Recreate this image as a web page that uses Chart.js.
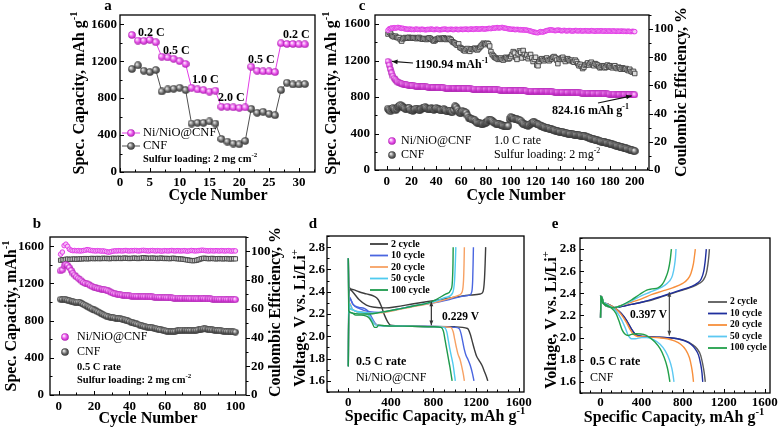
<!DOCTYPE html>
<html><head><meta charset="utf-8">
<script src="https://cdn.jsdelivr.net/npm/chart.js@4.4.1/dist/chart.umd.min.js"></script>
<style>
html,body{margin:0;padding:0;background:#fff;}
#wrap{position:relative;width:780px;height:430px;overflow:hidden;background:#fff;}
canvas{position:absolute;left:0;top:0;}
</style></head><body>
<div id="wrap">
<canvas id="ca" width="780" height="430"></canvas>
<canvas id="cb" width="780" height="430"></canvas>
<canvas id="cc" width="780" height="430"></canvas>
<canvas id="cd" width="780" height="430"></canvas>
<canvas id="ce" width="780" height="430"></canvas>
</div>
<script>
const SERIF = "'Liberation Serif','Times New Roman',serif";

// ---------- Panel a: rate capability ----------
const aCycles = [2,3,4,5,6,7,8,9,10,11,12,13,14,15,16,17,18,19,20,21,22,23,24,25,26,27,28,29,30,31];
const aNiNiO = [1484,1423,1420,1430,1405, 1249,1240,1225,1200,1170, 912,894,887,870,880, 706,706,700,695,700, 1140,1097,1090,1090,1082, 1394,1386,1386,1383,1383];
const aCNF   = [1115,1155,1097,1082,1104, 872,894,901,912,887, 525,532,532,547,525, 358,329,308,300,337, 684,641,652,630,615, 887,967,948,948,952];
const aXTicks = [0,5,10,15,20,25,30];
const capTicks = [0,400,800,1200,1600];
const ceTicks = [0,20,40,60,80,100];
const rateLabels = ['0.2 C','0.5 C','1.0 C','2.0 C','0.5 C','0.2 C'];

// ---------- Panel b: 0.5 C cycling (cycles 1..100) ----------
const bNiNiO = [1335,1345,1390,1405,1395,1370,1340,1310,1290,1270,
1255,1240,1225,1210,1200,1195,1190,1175,1165,1158,
1152,1146,1142,1138,1135,1132,1128,1120,1110,1100,
1093,1088,1084,1080,1077,1075,1072,1070,1068,1066,
1065,1064,1063,1062,1061,1060,1059,1058,1058,1057,
1057,1056,1055,1054,1053,1052,1051,1050,1049,1048,
1047,1046,1045,1044,1043,1042,1042,1041,1040,1040,
1039,1038,1038,1037,1036,1036,1035,1035,1034,1034,
1040,1038,1036,1034,1033,1033,1032,1032,1031,1031,
1030,1030,1029,1029,1028,1028,1027,1027,1026,1026];
const bCNF = [1030,1028,1030,1025,1020,1015,1010,1005,1000,998,
1000,995,985,975,965,955,945,935,925,915,
905,895,885,875,866,858,850,843,838,835,
832,828,825,822,818,815,810,805,798,790,
783,776,770,764,758,752,745,740,735,731,
728,725,722,718,714,710,705,700,696,692,
688,685,683,682,683,685,690,694,697,698,
697,696,695,694,694,693,694,696,700,706,
710,712,711,708,705,702,700,698,696,694,
692,690,688,686,684,682,680,679,678,677];
const bNiNiOCE = [98.0,99.5,104.0,105.0,103.5,101.5,100.8,100.5,100.6,100.4,
100.5,100.3,100.4,100.6,100.8,101.2,101.0,100.7,100.5,100.4,
100.3,100.5,100.4,100.2,100.3,100.1,99.8,99.5,99.6,100.0,
100.2,100.4,100.3,100.5,100.4,100.3,100.5,100.6,100.4,100.3,
100.5,100.4,100.6,100.5,100.3,100.4,100.6,100.7,100.5,100.4,
100.3,100.5,100.6,100.4,100.3,100.5,100.4,100.2,100.3,100.5,
100.4,100.3,100.5,100.6,100.4,100.3,100.5,100.4,100.3,100.4,
100.5,100.3,100.2,100.4,100.6,100.5,100.3,100.4,100.5,100.6,
100.8,100.7,100.5,100.4,100.3,100.5,100.4,100.3,100.5,100.4,
100.3,100.5,100.4,100.3,100.4,100.5,100.3,100.2,100.4,100.3];
const bCNFCE = [93.8,94.2,94.0,94.5,94.6,94.4,94.5,94.6,94.7,94.5,
94.6,94.8,94.7,94.9,95.0,94.8,94.9,95.0,95.1,94.9,
95.0,95.1,94.9,95.0,95.2,95.0,95.1,95.0,94.9,95.1,
95.2,95.0,95.1,95.2,95.0,95.1,95.3,95.2,95.1,95.0,
95.1,95.2,95.3,95.1,95.0,95.2,95.3,95.6,95.4,95.2,
95.1,95.2,95.3,95.2,95.1,95.0,95.2,95.3,95.1,95.0,
95.1,95.0,94.9,95.1,95.2,95.0,94.9,94.8,94.7,94.6,
94.4,94.2,94.0,93.8,93.6,93.5,93.6,93.8,94.2,94.6,
95.0,95.2,95.1,95.0,94.9,95.0,95.1,94.9,94.8,94.9,
95.0,94.9,94.8,94.9,95.0,94.8,94.7,94.8,94.9,94.8];
const bXTicks = [0,20,40,60,80,100];

// ---------- Panel c: 1.0 C cycling (cycles 1..200) ----------
const cNiNiO = [1190.94,1150,1105,1065,1030,1005,988,975,965,958,
952,947,943,940,937,934,932,930,928,926,
924,922,921,919,918,917,916,915,914,913,
912,911,910,909,908,907,906,906,905,904,
903,903,902,901,901,900,899,899,898,898,
897,897,896,896,895,895,894,894,893,893,
892,892,891,891,890,890,889,889,888,888,
887,887,886,886,885,885,884,884,883,883,
882,882,881,881,880,880,879,879,878,878,
877,877,876,876,875,875,874,874,873,873,
872,872,871,871,870,870,869,869,868,868,
867,867,866,866,865,865,864,864,863,863,
862,862,861,861,860,860,859,859,858,858,
857,857,856,856,855,855,854,854,853,853,
852,852,851,851,850,850,849,849,848,848,
847,847,846,846,845,845,844,844,843,843,
842,842,841,841,840,840,839,839,838,838,
837,837,836,836,835,835,834,834,833,833,
832,832,831,831,830,830,829,829,828,828,
827,827,826,826,826,825,825,825,824.5,824.16];
const cCNF = [672,660,645,665,680,670,655,668,690,700,
712,705,690,680,672,668,675,680,662,655,
650,660,668,672,665,658,662,670,678,685,
690,680,672,665,670,675,668,660,672,680,
672,665,660,655,662,668,660,650,645,652,
648,640,636,660,698,690,665,640,625,630,
645,640,632,628,600,575,565,560,555,550,
545,530,520,515,512,508,505,510,515,520,
530,545,550,548,540,525,515,510,508,505,
500,495,490,485,482,480,478,485,560,580,
575,565,560,558,555,550,545,540,520,510,
500,495,490,488,495,505,515,525,522,515,
505,500,495,488,480,475,470,465,462,458,
455,450,445,440,436,432,428,425,420,418,
415,412,410,406,403,400,398,395,392,390,
388,386,384,382,380,378,376,374,372,368,
364,360,355,350,345,340,336,332,328,324,
320,316,312,310,306,302,298,295,292,288,
284,280,276,272,268,264,260,256,252,248,
244,240,236,232,228,224,220,216,212,208];
const cNiNiOCE = [99.2,100.2,100.5,100.8,100.6,101.0,100.7,100.9,101.2,101.0,
100.8,100.5,100.6,100.3,100.1,100.0,99.8,99.9,100.0,99.7,
99.8,99.6,99.9,100.0,99.7,99.8,99.6,99.9,99.8,99.7,
99.5,99.6,99.8,99.7,99.9,100.0,99.8,99.6,99.7,99.9,
99.8,99.6,99.5,99.7,99.8,99.9,100.0,99.8,99.6,99.7,
99.8,99.9,99.7,99.6,99.8,99.9,99.7,99.6,99.8,99.9,
99.7,99.8,99.9,100.0,99.8,99.7,99.9,100.1,99.9,99.8,
100.0,100.2,100.1,99.9,100.0,100.2,100.3,100.1,100.0,100.2,
100.3,100.4,100.5,100.3,100.6,100.8,100.6,100.9,101.1,100.8,
100.9,101.0,101.2,100.9,100.7,100.6,100.4,100.2,100.1,99.9,
99.8,99.9,99.7,99.6,99.8,99.7,99.5,99.6,99.4,99.5,
99.3,99.4,99.2,99.0,98.8,98.6,98.3,98.0,97.8,97.6,
97.5,97.4,97.8,98.2,98.0,97.9,98.3,98.6,98.9,99.1,
99.3,99.5,99.4,99.2,99.0,98.9,99.1,99.3,99.2,99.0,
98.8,98.9,99.1,98.9,98.7,98.8,99.0,98.9,98.7,98.6,
98.8,99.0,98.9,98.7,98.8,98.9,98.7,98.6,98.8,98.9,
98.7,98.8,98.6,98.7,98.9,98.8,98.6,98.5,98.7,98.8,
98.6,98.7,98.8,98.6,98.5,98.7,98.6,98.5,98.7,98.6,
98.5,98.6,98.7,98.5,98.4,98.6,98.5,98.4,98.6,98.5,
98.4,98.5,98.3,98.4,98.5,98.3,98.2,98.4,98.3,98.2];
const cCNFCE = [96.5,97.8,97.0,95.5,94.8,94.5,95.0,94.2,93.8,94.0,
92.5,91.5,93.0,93.6,94.0,93.5,93.8,94.2,93.9,93.5,
93.8,94.0,93.6,93.2,93.7,94.1,93.5,93.0,92.8,93.4,
93.0,92.6,93.2,93.8,93.5,92.8,92.2,91.5,92.0,92.8,
93.2,93.6,93.0,92.7,93.4,93.8,93.1,92.6,93.0,93.5,
93.0,92.2,91.0,90.5,90.0,89.0,88.5,89.5,87.0,86.5,
86.0,85.0,84.5,85.5,86.2,85.0,84.2,85.8,86.0,85.5,
86.5,86.0,85.2,86.0,87.0,88.0,89.0,90.0,89.5,89.0,
90.0,89.5,88.0,84.0,82.0,81.0,80.0,79.5,79.0,78.5,
79.0,79.5,78.5,78.0,79.0,80.0,79.5,78.8,79.2,80.5,
82.0,84.0,83.0,80.0,78.5,82.5,84.5,83.5,79.5,84.8,
82.0,80.0,81.5,79.0,80.5,82.0,79.5,77.0,78.5,80.0,
74.5,74.0,77.0,78.5,79.0,78.0,77.5,78.5,79.5,78.0,
77.5,78.5,79.0,80.0,80.5,79.5,78.0,75.5,79.0,78.5,
79.5,80.0,78.5,77.0,78.5,79.0,78.0,77.5,78.0,77.0,
76.5,78.0,77.0,75.5,74.0,75.0,73.5,72.0,73.0,74.5,
75.0,76.0,74.5,75.5,76.5,75.0,74.0,75.5,75.0,74.5,
73.5,72.5,73.0,74.0,73.5,72.5,73.0,74.5,73.5,74.0,
73.0,72.5,73.5,74.0,72.5,72.0,73.0,72.5,71.5,72.5,
72.0,71.5,72.0,71.0,70.5,71.5,70.0,69.5,70.0,68.5];
const cXTicks = [0,20,40,60,80,100,120,140,160,180,200];

// ---------- Panels d, e: voltage profiles [capacity mAh/g, V] ----------
const cycleLabels = ['2 cycle','10 cycle','20 cycle','50 cycle','100 cycle'];
const sTicks = [0,400,800,1200,1600];
const vTicks = [1.6,1.8,2.0,2.2,2.4,2.6,2.8];

const dDis2 = [[0,2.70],[8,2.44],[40,2.42],[100,2.40],[170,2.38],[240,2.36],[280,2.33],[310,2.27],[340,2.19],[370,2.13],[395,2.10],[450,2.095],[600,2.09],[800,2.088],[1000,2.085],[1120,2.07],[1145,2.02],[1165,1.95],[1185,1.88],[1205,1.82],[1230,1.78],[1255,1.74],[1280,1.68],[1300,1.63],[1310,1.60]];
const dDis10 = [[0,2.70],[5,2.36],[20,2.33],[50,2.28],[100,2.26],[150,2.25],[190,2.22],[220,2.17],[250,2.12],[275,2.10],[320,2.095],[500,2.09],[700,2.09],[900,2.085],[1000,2.08],[1040,2.07],[1060,2.02],[1075,1.95],[1090,1.88],[1105,1.83],[1125,1.79],[1145,1.74],[1165,1.67],[1180,1.60]];
const dDis20 = [[0,2.70],[5,2.28],[30,2.24],[80,2.22],[150,2.21],[190,2.19],[220,2.15],[250,2.11],[270,2.10],[350,2.095],[600,2.09],[850,2.085],[960,2.08],[985,2.04],[1000,1.97],[1015,1.90],[1030,1.84],[1050,1.79],[1065,1.73],[1080,1.66],[1090,1.60]];
const dDis50 = [[0,2.70],[5,2.27],[30,2.24],[80,2.22],[150,2.21],[190,2.19],[215,2.16],[240,2.12],[260,2.10],[320,2.095],[600,2.09],[800,2.085],[900,2.08],[925,2.04],[940,1.96],[955,1.88],[970,1.81],[985,1.74],[995,1.67],[1005,1.60]];
const dDis100 = [[0,2.70],[4,2.23],[30,2.21],[70,2.19],[120,2.19],[170,2.18],[200,2.16],[225,2.12],[245,2.08],[265,2.08],[285,2.10],[350,2.095],[600,2.09],[800,2.085],[870,2.08],[895,2.04],[910,1.96],[925,1.88],[940,1.80],[955,1.72],[965,1.66],[975,1.60]];
const dChg2 = [[0,1.73],[5,2.30],[15,2.42],[40,2.40],[100,2.33],[170,2.28],[250,2.26],[350,2.255],[450,2.265],[600,2.29],[800,2.32],[1000,2.35],[1150,2.37],[1240,2.38],[1265,2.40],[1278,2.50],[1285,2.65],[1290,2.80]];
const dChg10 = [[0,1.73],[4,2.28],[12,2.35],[40,2.29],[100,2.25],[200,2.22],[300,2.215],[450,2.24],[600,2.27],[800,2.30],[950,2.33],[1080,2.36],[1140,2.37],[1160,2.40],[1168,2.50],[1172,2.65],[1175,2.80]];
const dChg20 = [[0,1.73],[4,2.26],[12,2.30],[40,2.24],[100,2.22],[200,2.21],[300,2.21],[450,2.235],[600,2.265],[800,2.30],[950,2.34],[1040,2.37],[1070,2.40],[1082,2.50],[1087,2.65],[1090,2.80]];
const dChg50 = [[0,1.73],[4,2.26],[12,2.29],[40,2.24],[100,2.22],[200,2.21],[300,2.215],[450,2.24],[600,2.27],[800,2.31],[920,2.35],[980,2.39],[998,2.50],[1005,2.65],[1010,2.80]];
const dChg100 = [[0,1.73],[4,2.22],[30,2.21],[100,2.20],[200,2.20],[300,2.215],[450,2.24],[600,2.27],[750,2.30],[825,2.33],[918,2.38],[965,2.42],[978,2.50],[983,2.65],[985,2.80]];

const eDis2 = [[0,2.38],[10,2.33],[50,2.31],[100,2.29],[150,2.26],[200,2.22],[250,2.16],[300,2.08],[330,2.04],[360,2.02],[420,2.01],[550,2.005],[650,2.00],[750,1.99],[830,1.97],[890,1.94],[940,1.90],[975,1.84],[995,1.76],[1010,1.68],[1020,1.60]];
const eDis10 = [[0,2.38],[10,2.33],[50,2.31],[100,2.29],[150,2.26],[200,2.22],[250,2.16],[300,2.08],[330,2.04],[360,2.02],[420,2.01],[550,2.005],[650,2.00],[750,1.99],[820,1.97],[880,1.94],[920,1.90],[955,1.84],[975,1.76],[988,1.68],[995,1.60]];
const eDis20 = [[0,2.38],[10,2.33],[50,2.31],[100,2.29],[150,2.26],[200,2.21],[250,2.14],[290,2.07],[320,2.03],[360,2.01],[450,2.005],[550,2.00],[650,1.99],[720,1.97],[780,1.94],[830,1.89],[865,1.82],[885,1.74],[897,1.67],[905,1.60]];
const eDis50 = [[0,2.38],[10,2.33],[50,2.31],[100,2.28],[150,2.24],[200,2.17],[240,2.09],[270,2.02],[300,1.99],[340,1.99],[400,2.00],[450,2.00],[520,1.98],[580,1.94],[630,1.88],[670,1.80],[695,1.72],[708,1.65],[715,1.60]];
const eDis100 = [[0,2.38],[10,2.33],[50,2.30],[100,2.27],[150,2.22],[180,2.15],[210,2.07],[240,2.03],[270,2.02],[300,2.03],[350,2.035],[420,2.03],[480,2.00],[530,1.96],[580,1.90],[620,1.82],[650,1.73],[665,1.66],[675,1.60]];
const eChg2 = [[0,2.18],[4,2.34],[10,2.37],[30,2.31],[80,2.28],[130,2.27],[200,2.28],[300,2.30],[400,2.32],[500,2.34],[600,2.37],[700,2.40],[800,2.43],[900,2.46],[960,2.49],[1000,2.52],[1030,2.58],[1045,2.66],[1055,2.74],[1060,2.80]];
const eChg10 = [[0,2.18],[4,2.34],[10,2.37],[30,2.31],[80,2.28],[130,2.27],[200,2.28],[300,2.30],[400,2.32],[500,2.345],[600,2.375],[700,2.405],[800,2.435],[880,2.46],[940,2.49],[980,2.53],[1005,2.60],[1020,2.70],[1030,2.80]];
const eChg20 = [[0,2.18],[4,2.34],[10,2.37],[30,2.31],[80,2.28],[130,2.27],[200,2.29],[300,2.32],[400,2.35],[500,2.39],[600,2.42],[700,2.45],[800,2.49],[850,2.53],[880,2.58],[905,2.67],[915,2.74],[923,2.80]];
const eChg50 = [[0,2.18],[4,2.34],[10,2.37],[30,2.31],[80,2.28],[130,2.27],[200,2.29],[300,2.33],[400,2.38],[480,2.41],[560,2.44],[620,2.47],[670,2.51],[700,2.56],[720,2.65],[730,2.73],[735,2.80]];
const eChg100 = [[0,2.18],[4,2.34],[10,2.37],[30,2.31],[80,2.28],[130,2.27],[200,2.29],[300,2.34],[380,2.39],[450,2.43],[500,2.44],[560,2.45],[600,2.48],[630,2.53],[660,2.61],[678,2.70],[690,2.80]];

const dColors = ['#3d3d3d','#4a66e0','#f7a163','#4fcbef','#1e9a4c'];
const eColors = ['#5a5a5a','#1f2f9e','#f78f3c','#5cc8f2','#22a04a'];
const MAG = '#e23ce6', GRY = '#505050';

// ---------- helpers ----------
function sphere(d, light, mid, dark) {
  const c = document.createElement('canvas'); c.width = c.height = d;
  const g = c.getContext('2d'); const r = d/2;
  const grd = g.createRadialGradient(r*0.7, r*0.7, r*0.1, r, r, r);
  grd.addColorStop(0, light); grd.addColorStop(0.55, mid); grd.addColorStop(1, dark);
  g.fillStyle = grd; g.beginPath(); g.arc(r, r, r-0.2, 0, Math.PI*2); g.fill();
  return c;
}
const sphM7 = sphere(8, '#ffe6ff', '#e64ee8', '#a21aa6');
const sphG7 = sphere(8, '#e8e8e8', '#6a6a6a', '#2a2a2a');
const sphM6 = sphere(7, '#ffe6ff', '#e64ee8', '#a21aa6');
const sphG6 = sphere(7, '#e8e8e8', '#6a6a6a', '#2a2a2a');
const sphG8 = sphere(8, '#e8e8e8', '#6a6a6a', '#2a2a2a');

const byCycle = (ys) => ys.map((y, i) => ({x: i + 1, y}));
const byPairs = (ps) => ps.map(p => ({x: p[0], y: p[1]}));

function rich(ctx, parts, x, y, size, weight, align, rot) {
  ctx.save();
  ctx.translate(x, y); if (rot) ctx.rotate(rot);
  const f = sz => `${weight} ${sz}px ${SERIF}`;
  let total = 0;
  const segs = parts.map(p => {
    const sup = typeof p !== 'string'; const t = sup ? p.s : p;
    const sz = sup ? size * 0.66 : size; ctx.font = f(sz);
    const w = ctx.measureText(t).width; total += w; return {t, sz, w, sup};
  });
  let cx = align === 'center' ? -total/2 : (align === 'right' ? -total : 0);
  ctx.textBaseline = 'middle'; ctx.textAlign = 'left'; ctx.fillStyle = '#000';
  segs.forEach(s => { ctx.font = f(s.sz); ctx.fillText(s.t, cx, s.sup ? -size*0.36 : 0); cx += s.w; });
  ctx.restore();
}
function arrow(ctx, x1, y1, x2, y2, both, color, hl) {
  ctx.save(); ctx.strokeStyle = color; ctx.fillStyle = color; ctx.lineWidth = 1.2;
  ctx.beginPath(); ctx.moveTo(x1, y1); ctx.lineTo(x2, y2); ctx.stroke();
  const head = (xa, ya, xb, yb) => {
    const ang = Math.atan2(yb - ya, xb - xa), L = hl || 6, W = 0.4;
    ctx.beginPath(); ctx.moveTo(xb, yb);
    ctx.lineTo(xb - L*Math.cos(ang - W), yb - L*Math.sin(ang - W));
    ctx.lineTo(xb - L*Math.cos(ang + W), yb - L*Math.sin(ang + W));
    ctx.closePath(); ctx.fill();
  };
  head(x1, y1, x2, y2); if (both) head(x2, y2, x1, y1);
  ctx.restore();
}
function frameTicks(chart, ax) {
  const {ctx, chartArea: a, scales} = chart;
  ctx.save(); ctx.strokeStyle = '#000';
  const draw = (scale, s, side) => {
    const majors = s.ticks;
    ctx.lineWidth = 1;
    const marks = [];
    const st = s.minor;
    const start = Math.ceil((scale.min - 1e-9) / st) * st;
    for (let v = start; v <= scale.max + 1e-9; v += st) {
      const isMaj = majors.some(m => Math.abs(m - v) < st * 0.01);
      marks.push([v, isMaj ? 4 : 2.5]);
    }
    ctx.beginPath();
    marks.forEach(([v, len]) => {
      const p = Math.round(scale.getPixelForValue(v)) + 0.5;
      if (side === 'bottom') { ctx.moveTo(p, a.bottom); ctx.lineTo(p, a.bottom - len); }
      if (side === 'left') { ctx.moveTo(a.left, p); ctx.lineTo(a.left + len, p); }
      if (side === 'right') { ctx.moveTo(a.right, p); ctx.lineTo(a.right + len, p); }
    });
    ctx.stroke();
  };
  draw(scales.x, ax.x, 'bottom'); draw(scales.y, ax.y, 'left');
  if (ax.y2) draw(scales.y2, ax.y2, 'right');
  ctx.lineWidth = 1.3;
  ctx.strokeRect(a.left, a.top, a.right - a.left, a.bottom - a.top);
  ctx.restore();
}
function scaleOpt(s, pos, horiz) {
  return {
    type: 'linear', position: pos, min: s.min, max: s.max,
    grid: {display: false, drawTicks: false}, border: {display: false},
    ticks: {font: {family: SERIF, size: 13, weight: 'bold'}, color: '#000', padding: s.pad,
            autoSkip: false, maxRotation: 0, callback: v => s.fmt ? s.fmt(v) : String(v)},
    afterBuildTicks: sc => { sc.ticks = s.ticks.map(v => ({value: v})); },
    afterFit: sc => { if (horiz) sc.height = s.size; else sc.width = s.size; }
  };
}
function panel(id, box, ax, datasets, deco) {
  const wL = ax.y.size, wR = ax.y2 ? ax.y2.size : 0, hB = ax.x.size;
  const scales = {x: scaleOpt(ax.x, 'bottom', true), y: scaleOpt(ax.y, 'left', false)};
  if (ax.y2) scales.y2 = scaleOpt(ax.y2, 'right', false);
  new Chart(document.getElementById(id), {
    type: 'line',
    data: {datasets},
    options: {
      responsive: false, animation: false, devicePixelRatio: 1, events: [],
      layout: {autoPadding: false, padding: {left: box.L - wL, top: box.T, right: 780 - box.R - wR, bottom: 430 - box.B - hB}},
      plugins: {legend: {display: false}, tooltip: {enabled: false}},
      scales
    },
    plugins: [{id: 'deco', afterDraw: chart => { frameTicks(chart, ax); deco(chart.ctx, chart); }}]
  });
}

// ---------- Panel a ----------
panel('ca', {L: 120, T: 15, R: 315, B: 172},
  {x: {min: 0, max: 32.7, ticks: aXTicks, minor: 2.5, pad: 3, size: 24},
   y: {min: 0, max: 1700, ticks: capTicks, minor: 200, pad: 3, size: 40}},
  [
    {data: aCycles.map((c, i) => ({x: c, y: aNiNiO[i]})), borderColor: MAG, borderWidth: 1, pointStyle: sphM7, pointRadius: 4, tension: 0},
    {data: aCycles.map((c, i) => ({x: c, y: aCNF[i]})), borderColor: GRY, borderWidth: 1, pointStyle: sphG7, pointRadius: 4, tension: 0}
  ],
  (ctx) => {
    rich(ctx, ['a'], 108, 6, 15, 'bold', 'center');
    rich(ctx, ['Spec. Capacity, mAh g', {s: '-1'}], 80, 93, 16, 'bold', 'center', -Math.PI/2);
    rich(ctx, ['Cycle Number'], 218, 196, 16, 'bold', 'center');
    const rl = [[138, 33], [163, 51], [192, 80], [218, 98], [248, 60], [283, 35]];
    rl.forEach((p, i) => rich(ctx, [rateLabels[i]], p[0], p[1], 12, 'bold', 'left'));
    ctx.save(); ctx.lineWidth = 1;
    ctx.strokeStyle = MAG; ctx.beginPath(); ctx.moveTo(122, 133); ctx.lineTo(140, 133); ctx.stroke();
    ctx.drawImage(sphM7, 127, 129);
    ctx.strokeStyle = GRY; ctx.beginPath(); ctx.moveTo(122, 146); ctx.lineTo(140, 146); ctx.stroke();
    ctx.drawImage(sphG7, 127, 142);
    ctx.restore();
    rich(ctx, ['Ni/NiO@CNF'], 143, 133, 12.5, 'normal', 'left');
    rich(ctx, ['CNF'], 143, 146, 12.5, 'normal', 'left');
    rich(ctx, ['Sulfur loading: 2 mg cm', {s: '-2'}], 143, 159, 10.5, 'bold', 'left');
  });

// ---------- Panel b ----------
panel('cb', {L: 50, T: 237, R: 246, B: 395},
  {x: {min: -5, max: 106, ticks: bXTicks, minor: 10, pad: 4, size: 24},
   y: {min: 0, max: 1700, ticks: capTicks, minor: 200, pad: 6, size: 40},
   y2: {min: 0, max: 110, ticks: ceTicks, minor: 10, pad: 5, size: 30}},
  [
    {data: byCycle(bNiNiO), showLine: false, pointStyle: sphM6, pointRadius: 3, yAxisID: 'y'},
    {data: byCycle(bCNF), showLine: false, pointStyle: sphG6, pointRadius: 3, yAxisID: 'y'},
    {data: byCycle(bNiNiOCE), showLine: false, pointStyle: 'circle', pointRadius: 2.3, backgroundColor: '#f6c6f6', borderColor: MAG, pointBorderWidth: 1, yAxisID: 'y2'},
    {data: byCycle(bCNFCE), showLine: false, pointStyle: 'rect', pointRadius: 3, backgroundColor: '#e4e4e4', borderColor: '#404040', pointBorderWidth: 0.9, yAxisID: 'y2'}
  ],
  (ctx) => {
    rich(ctx, ['b'], 37, 224, 15, 'bold', 'center');
    rich(ctx, ['Spec. Capacity, mAh', {s: '-1'}], 12, 316, 16, 'bold', 'center', -Math.PI/2);
    rich(ctx, ['Coulombic Efficiency, %'], 276, 312, 16, 'bold', 'center', -Math.PI/2);
    rich(ctx, ['Cycle Number'], 148, 419, 16, 'bold', 'center');
    ctx.drawImage(sphM7, 61, 333); ctx.drawImage(sphG7, 61, 348);
    rich(ctx, ['Ni/NiO@CNF'], 77, 337, 12, 'normal', 'left');
    rich(ctx, ['CNF'], 77, 352, 12, 'normal', 'left');
    rich(ctx, ['0.5 C rate'], 77, 367, 10.5, 'bold', 'left');
    rich(ctx, ['Sulfur loading: 2 mg cm', {s: '-2'}], 77, 380, 10.5, 'bold', 'left');
  });

// ---------- Panel c ----------
panel('cc', {L: 375, T: 15, R: 649, B: 170},
  {x: {min: -9.5, max: 211.5, ticks: cXTicks, minor: 10, pad: 4, size: 24},
   y: {min: 0, max: 1700, ticks: capTicks, minor: 200, pad: 5, size: 40},
   y2: {min: 0, max: 110, ticks: ceTicks, minor: 10, pad: 5, size: 30}},
  [
    {data: byCycle(cNiNiO), showLine: false, pointStyle: sphM6, pointRadius: 3, yAxisID: 'y'},
    {data: byCycle(cCNF), showLine: false, pointStyle: sphG8, pointRadius: 3, yAxisID: 'y'},
    {data: byCycle(cNiNiOCE), showLine: false, pointStyle: 'circle', pointRadius: 2.3, backgroundColor: '#f6c6f6', borderColor: MAG, pointBorderWidth: 1, yAxisID: 'y2'},
    {data: byCycle(cCNFCE), showLine: false, pointStyle: 'rect', pointRadius: 3.2, backgroundColor: '#dcdcdc', borderColor: '#404040', pointBorderWidth: 0.9, yAxisID: 'y2'}
  ],
  (ctx, chart) => {
    const {x, y} = chart.scales;
    rich(ctx, ['c'], 362, 6, 15, 'bold', 'center');
    rich(ctx, ['Spec. Capacity, mAh g', {s: '-1'}], 332, 93, 16, 'bold', 'center', -Math.PI/2);
    rich(ctx, ['Coulombic Efficiency, %'], 682, 92, 16, 'bold', 'center', -Math.PI/2);
    rich(ctx, ['Cycle Number'], 516, 196, 16, 'bold', 'center');
    const p1x = x.getPixelForValue(1), p1y = y.getPixelForValue(cNiNiO[0]);
    arrow(ctx, 413, 63, p1x + 4, p1y, false, '#111', 6);
    rich(ctx, ['1190.94 mAh', {s: '-1'}], 415, 65, 12, 'bold', 'left');
    const p2x = x.getPixelForValue(200), p2y = y.getPixelForValue(cNiNiO[199]);
    arrow(ctx, 598, 103, p2x - 3, p2y + 1, false, '#111', 6);
    rich(ctx, ['824.16 mAh g', {s: '-1'}], 552, 111, 12, 'bold', 'left');
    ctx.drawImage(sphM7, 388, 137); ctx.drawImage(sphG7, 388, 151);
    rich(ctx, ['Ni/NiO@CNF'], 401, 141, 12, 'normal', 'left');
    rich(ctx, ['CNF'], 401, 155, 12, 'normal', 'left');
    rich(ctx, ['1.0 C rate'], 494, 141, 12, 'normal', 'left');
    rich(ctx, ['Sulfur loading: 2 mg', {s: '-2'}], 494, 155, 12, 'normal', 'left');
  });

// ---------- Panel d ----------
const dDis = [dDis2, dDis10, dDis20, dDis50, dDis100];
const dChg = [dChg2, dChg10, dChg20, dChg50, dChg100];
const eDis = [eDis2, eDis10, eDis20, eDis50, eDis100];
const eChg = [eChg2, eChg10, eChg20, eChg50, eChg100];
function curveSets(dis, chg, colors) {
  const out = [];
  dis.forEach((c, i) => {
    out.push({data: byPairs(c), borderColor: colors[i], borderWidth: 1.4, pointRadius: 0, cubicInterpolationMode: 'monotone', order: 4 - i});
    out.push({data: byPairs(chg[i]), borderColor: colors[i], borderWidth: 1.4, pointRadius: 0, cubicInterpolationMode: 'monotone', order: 4 - i});
  });
  return out;
}
function curveLegend(ctx, colors, x0, x1, tx, ys, size) {
  ys.forEach((yy, i) => {
    ctx.save(); ctx.strokeStyle = colors[i]; ctx.lineWidth = 1.8;
    ctx.beginPath(); ctx.moveTo(x0, yy); ctx.lineTo(x1, yy); ctx.stroke(); ctx.restore();
    rich(ctx, [cycleLabels[i]], tx, yy, size, 'bold', 'left');
  });
}
panel('cd', {L: 327, T: 236, R: 524, B: 392},
  {x: {min: -200, max: 1650, ticks: sTicks, minor: 100, pad: 3, size: 24},
   y: {min: 1.5, max: 2.9, ticks: vTicks, minor: 0.1, pad: 2, size: 24, fmt: v => v.toFixed(1)}},
  curveSets(dDis, dChg, dColors),
  (ctx, chart) => {
    const {x, y} = chart.scales;
    rich(ctx, ['d'], 313, 224, 15, 'bold', 'center');
    rich(ctx, ['Voltage, V vs. Li/Li', {s: '+'}], 301, 318, 16, 'bold', 'center', -Math.PI/2);
    rich(ctx, ['Specific Capacity, mAh g', {s: '-1'}], 435, 417, 16, 'bold', 'center');
    const ax = x.getPixelForValue(780);
    arrow(ctx, ax, y.getPixelForValue(2.31), ax, y.getPixelForValue(2.10), true, '#333', 5);
    rich(ctx, ['0.229 V'], 442, 317, 11.5, 'bold', 'left');
    curveLegend(ctx, dColors, 370, 388, 391, [244, 255.5, 267, 278.5, 290], 10);
    rich(ctx, ['0.5 C rate'], 356, 362, 12, 'bold', 'left');
    rich(ctx, ['Ni/NiO@CNF'], 356, 378, 12, 'normal', 'left');
  });

// ---------- Panel e ----------
panel('ce', {L: 580, T: 238, R: 775, B: 393},
  {x: {min: -200, max: 1650, ticks: sTicks, minor: 100, pad: 2, size: 24},
   y: {min: 1.5, max: 2.9, ticks: vTicks, minor: 0.1, pad: 4, size: 24, fmt: v => v.toFixed(1)}},
  curveSets(eDis, eChg, eColors),
  (ctx, chart) => {
    const {x, y} = chart.scales;
    rich(ctx, ['e'], 555, 224, 15, 'bold', 'center');
    rich(ctx, ['Voltage, V vs. Li/Li', {s: '+'}], 552, 320, 16, 'bold', 'center', -Math.PI/2);
    rich(ctx, ['Specific Capacity, mAh g', {s: '-1'}], 674, 418, 16, 'bold', 'center');
    const ax = x.getPixelForValue(670);
    arrow(ctx, ax, y.getPixelForValue(2.41), ax, y.getPixelForValue(2.02), true, '#444', 5);
    rich(ctx, ['0.397 V'], 630, 315, 11.5, 'bold', 'left');
    curveLegend(ctx, eColors, 708, 727, 730, [302, 313.5, 325, 336.5, 348], 9.5);
    rich(ctx, ['0.5 C rate'], 590, 362, 12, 'bold', 'left');
    rich(ctx, ['CNF'], 590, 378, 12, 'normal', 'left');
  });
</script>
</body></html>
